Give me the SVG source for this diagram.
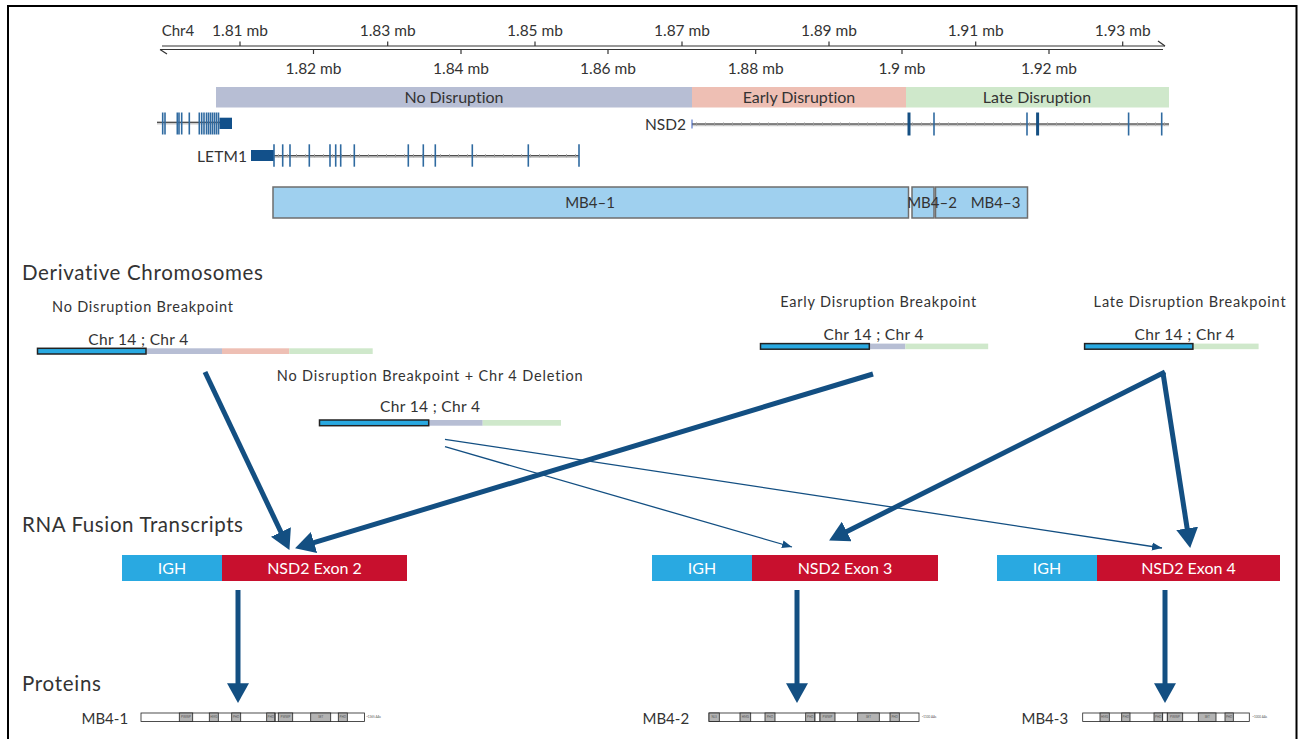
<svg xmlns="http://www.w3.org/2000/svg" width="1299" height="739" viewBox="0 0 1299 739">
<style>
text{font-family:Lato,"Liberation Sans",sans-serif;fill:#333;font-variant-ligatures:none}
.ax{font-size:15.5px;text-anchor:middle}
.band{font-size:16px;text-anchor:middle}
.gl{font-size:15.5px;text-anchor:end}
.mb{font-size:15px;text-anchor:middle}
.hd{font-size:20.5px}
.sub{font-size:14.5px;text-anchor:middle}
.chr{font-size:15.5px;text-anchor:middle}
.rna{font-size:16px;text-anchor:middle;fill:#fff}
.pl{font-size:15px}
.tiny{font-size:3px;text-anchor:middle;fill:#555}
.tick{stroke:#333;stroke-width:1.2}
.exon{stroke:#2f6aa0;stroke-width:1.6}
.exonT{stroke:#154f82;stroke-width:3}
.intron{stroke:#333;stroke-width:1}
.ichev{stroke:#999;stroke-width:3;stroke-dasharray:1 8}
.mbbox{fill:#9fd0ef;stroke:#6e6e6e;stroke-width:1.5}
.chrb{fill:#29a9e1;stroke:#222;stroke-width:1.5}
.thick{stroke:#134f82;stroke-width:5;fill:none;marker-end:url(#ah)}
.thin{stroke:#134f82;stroke-width:1.3;fill:none;marker-end:url(#ahs)}
.pbar{fill:#fff;stroke:#222;stroke-width:0.8}
.dom{fill:#b3b3b3;stroke:#222;stroke-width:0.8}
</style>
<defs>
<marker id="ah" markerUnits="userSpaceOnUse" markerWidth="22" markerHeight="22" refX="8" refY="10" orient="auto" viewBox="0 0 20 20">
<path d="M0,0 L18,10 L0,20 z" fill="#134f82"/>
</marker>
<marker id="ahs" markerUnits="userSpaceOnUse" markerWidth="12" markerHeight="10" refX="10" refY="4" orient="auto" viewBox="0 0 12 8">
<path d="M0,0 L10,4 L0,8 z" fill="#134f82"/>
</marker>
</defs>
<rect x="0" y="0" width="1299" height="739" fill="#fff"/>
<rect x="8" y="6" width="1288.5" height="745" fill="none" stroke="#000" stroke-width="2"/>

<g id="axis">
<text x="178" y="36" style="font-size:15px;text-anchor:middle">Chr4</text>
<line x1="162" y1="46" x2="1165" y2="46" class="tick"/>
<line x1="160" y1="49.5" x2="1163" y2="49.5" class="tick"/>
<line x1="1165" y1="46" x2="1158" y2="41" class="tick"/>
<line x1="160" y1="49.5" x2="167" y2="54" class="tick"/>
<g class="tick">
<line x1="240" y1="41.5" x2="240" y2="46"/><line x1="387.7" y1="41.5" x2="387.7" y2="46"/><line x1="535" y1="41.5" x2="535" y2="46"/><line x1="682" y1="41.5" x2="682" y2="46"/><line x1="829" y1="41.5" x2="829" y2="46"/><line x1="975.7" y1="41.5" x2="975.7" y2="46"/><line x1="1122.7" y1="41.5" x2="1122.7" y2="46"/>
<line x1="313.5" y1="49.5" x2="313.5" y2="54"/><line x1="461" y1="49.5" x2="461" y2="54"/><line x1="608" y1="49.5" x2="608" y2="54"/><line x1="755.7" y1="49.5" x2="755.7" y2="54"/><line x1="902" y1="49.5" x2="902" y2="54"/><line x1="1049" y1="49.5" x2="1049" y2="54"/>
</g>
<text class="ax" x="240" y="35.5">1.81 mb</text>
<text class="ax" x="387.7" y="35.5">1.83 mb</text>
<text class="ax" x="535" y="35.5">1.85 mb</text>
<text class="ax" x="682" y="35.5">1.87 mb</text>
<text class="ax" x="829" y="35.5">1.89 mb</text>
<text class="ax" x="975.7" y="35.5">1.91 mb</text>
<text class="ax" x="1122.7" y="35.5">1.93 mb</text>
<text class="ax" x="313.5" y="73.5">1.82 mb</text>
<text class="ax" x="461" y="73.5">1.84 mb</text>
<text class="ax" x="608" y="73.5">1.86 mb</text>
<text class="ax" x="755.7" y="73.5">1.88 mb</text>
<text class="ax" x="902" y="73.5">1.9 mb</text>
<text class="ax" x="1049" y="73.5">1.92 mb</text>
</g>

<g id="bands">
<rect x="216" y="87" width="476" height="20.5" fill="#b7bed4"/>
<rect x="692" y="87" width="214" height="20.5" fill="#eebfb4"/>
<rect x="906" y="87" width="263" height="20.5" fill="#cfe8cb"/>
<text class="band" x="454" y="102.5">No Disruption</text>
<text class="band" x="799" y="102.5">Early Disruption</text>
<text class="band" x="1037" y="102.5">Late Disruption</text>
</g>

<g id="gene-left">
<line x1="157" y1="123" x2="221" y2="123" stroke="#ccc" stroke-width="3"/>
<line x1="157" y1="122.3" x2="221" y2="122.3" class="intron"/>
<g class="exon">
<line x1="162.7" y1="112.5" x2="162.7" y2="134.5"/><line x1="165" y1="112.5" x2="165" y2="134.5"/><line x1="177.3" y1="112.5" x2="177.3" y2="134.5"/><line x1="179" y1="112.5" x2="179" y2="134.5"/><line x1="181.7" y1="112.5" x2="181.7" y2="134.5"/><line x1="189.3" y1="112.5" x2="189.3" y2="134.5"/><line x1="199.3" y1="112.5" x2="199.3" y2="134.5"/><line x1="201.7" y1="112.5" x2="201.7" y2="134.5"/><line x1="204" y1="112.5" x2="204" y2="134.5"/><line x1="206.5" y1="112.5" x2="206.5" y2="134.5"/><line x1="208.5" y1="112.5" x2="208.5" y2="134.5"/><line x1="210.5" y1="112.5" x2="210.5" y2="134.5"/><line x1="212.5" y1="112.5" x2="212.5" y2="134.5"/><line x1="214.5" y1="112.5" x2="214.5" y2="134.5"/><line x1="216.5" y1="112.5" x2="216.5" y2="134.5"/><line x1="218.5" y1="112.5" x2="218.5" y2="134.5"/>
</g>
<rect x="219.5" y="117.7" width="12.5" height="11.3" fill="#12508a"/>
</g>

<g id="gene-NSD2">
<text class="gl" x="686" y="129.5" textLength="41">NSD2</text>
<line x1="692" y1="124.8" x2="1169" y2="124.8" stroke="#ccc" stroke-width="3"/>
<line x1="692" y1="124" x2="1169" y2="124" class="intron"/>
<line x1="696" y1="124" x2="1166" y2="124" class="ichev"/>
<line x1="692" y1="119.5" x2="692" y2="128.5" stroke="#3a5fc0" stroke-width="1"/>
<line x1="909" y1="112.5" x2="909" y2="135.5" class="exonT"/>
<line x1="934" y1="112.5" x2="934" y2="135.5" class="exon"/>
<line x1="1027" y1="112.5" x2="1027" y2="135.5" class="exon"/>
<line x1="1037.6" y1="112.5" x2="1037.6" y2="135.5" class="exonT"/>
<line x1="1128.6" y1="112.5" x2="1128.6" y2="135.5" class="exon"/>
<line x1="1161.7" y1="112.5" x2="1161.7" y2="135.5" class="exon"/>
</g>

<g id="gene-LETM1">
<text class="gl" x="247" y="161.5" textLength="50">LETM1</text>
<rect x="251" y="150" width="23" height="11" fill="#12508a"/>
<line x1="274" y1="156.5" x2="579" y2="156.5" stroke="#ccc" stroke-width="3"/>
<line x1="274" y1="155.7" x2="579" y2="155.7" class="intron"/>
<line x1="278" y1="155.7" x2="577" y2="155.7" class="ichev"/>
<g class="exon">
<line x1="274" y1="144.3" x2="274" y2="166.7"/><line x1="282.7" y1="144.3" x2="282.7" y2="166.7"/><line x1="290" y1="144.3" x2="290" y2="166.7"/><line x1="309.3" y1="144.3" x2="309.3" y2="166.7"/><line x1="330" y1="144.3" x2="330" y2="166.7"/><line x1="335.7" y1="144.3" x2="335.7" y2="166.7"/><line x1="340.7" y1="144.3" x2="340.7" y2="166.7"/><line x1="354.3" y1="144.3" x2="354.3" y2="166.7"/><line x1="408.3" y1="144.3" x2="408.3" y2="166.7"/><line x1="423.3" y1="144.3" x2="423.3" y2="166.7"/><line x1="435.3" y1="144.3" x2="435.3" y2="166.7"/><line x1="472.3" y1="144.3" x2="472.3" y2="166.7"/><line x1="528.3" y1="144.3" x2="528.3" y2="166.7"/><line x1="579" y1="144.3" x2="579" y2="166.7"/>
</g>
</g>

<g id="mb4-regions">
<rect class="mbbox" x="273" y="187" width="635.5" height="31"/>
<rect class="mbbox" x="912" y="187" width="22" height="31"/>
<rect class="mbbox" x="935.5" y="187" width="92" height="31"/>
<text class="mb" x="590" y="208">MB4–1</text>
<text class="mb" x="932" y="208">MB4–2</text>
<text class="mb" x="995.5" y="208">MB4–3</text>
</g>

<g id="headings">
<text class="hd" x="22" y="280" textLength="241">Derivative Chromosomes</text>
<text class="hd" x="22" y="532" textLength="221">RNA Fusion Transcripts</text>
<text class="hd" x="22" y="691" textLength="79">Proteins</text>
</g>

<g id="der-nodisruption">
<text class="sub" x="142.5" y="312" textLength="181">No Disruption Breakpoint</text>
<text class="chr" x="138.3" y="345" textLength="100">Chr 14 ; Chr 4</text>
<rect x="146" y="348.3" width="76" height="5.7" fill="#b7bed4"/>
<rect x="222" y="348.3" width="67.3" height="5.7" fill="#eebfb4"/>
<rect x="289.3" y="348.3" width="83.4" height="5.7" fill="#cfe8cb"/>
<rect class="chrb" x="37.5" y="348.3" width="108.5" height="5.7"/>
</g>

<g id="der-deletion">
<text class="sub" x="429.7" y="381" textLength="306">No Disruption Breakpoint + Chr 4 Deletion</text>
<text class="chr" x="430" y="412" textLength="100">Chr 14 ; Chr 4</text>
<rect x="428.7" y="420" width="54" height="5.7" fill="#b7bed4"/>
<rect x="482.7" y="420" width="78.3" height="5.7" fill="#cfe8cb"/>
<rect class="chrb" x="319.5" y="420" width="109.2" height="5.7"/>
</g>

<g id="der-early">
<text class="sub" x="878.2" y="307" textLength="196">Early Disruption Breakpoint</text>
<text class="chr" x="873.5" y="340" textLength="100">Chr 14 ; Chr 4</text>
<rect x="869.3" y="343.6" width="36.1" height="5.6" fill="#b7bed4"/>
<rect x="905.4" y="343.6" width="82.8" height="5.6" fill="#cfe8cb"/>
<rect class="chrb" x="760.5" y="343.6" width="108.8" height="5.6"/>
</g>

<g id="der-late">
<text class="sub" x="1189.6" y="307" textLength="192">Late Disruption Breakpoint</text>
<text class="chr" x="1184.6" y="340" textLength="100">Chr 14 ; Chr 4</text>
<rect x="1192.9" y="343.6" width="65.7" height="5.6" fill="#cfe8cb"/>
<rect class="chrb" x="1084.6" y="343.6" width="108.3" height="5.6"/>
</g>

<g id="rna-exon2">
<rect x="122" y="555" width="100" height="26" fill="#29a9e1"/>
<rect x="222" y="555" width="185" height="26" fill="#c8102e"/>
<text class="rna" x="172" y="574">IGH</text>
<text class="rna" x="314.5" y="574">NSD2 Exon 2</text>
</g>
<g id="rna-exon3">
<rect x="652" y="555" width="100" height="26" fill="#29a9e1"/>
<rect x="752" y="555" width="186" height="26" fill="#c8102e"/>
<text class="rna" x="702" y="574">IGH</text>
<text class="rna" x="845" y="574">NSD2 Exon 3</text>
</g>
<g id="rna-exon4">
<rect x="997" y="555" width="100" height="26" fill="#29a9e1"/>
<rect x="1097" y="555" width="183" height="26" fill="#c8102e"/>
<text class="rna" x="1047" y="574">IGH</text>
<text class="rna" x="1188.5" y="574">NSD2 Exon 4</text>
</g>

<g id="protein-mb4-1">
<text class="pl" x="81.5" y="723.5">MB4-1</text>
<rect class="pbar" x="141" y="713" width="223.5" height="8.5"/>
<rect class="dom" x="179.3" y="713" width="13.4" height="8.5"/>
<rect class="dom" x="209.3" y="713" width="9" height="8.5"/>
<rect class="dom" x="231.7" y="713" width="9" height="8.5"/>
<rect class="dom" x="266.7" y="713" width="8.3" height="8.5"/>
<rect class="dom" x="278.3" y="713" width="14.4" height="8.5"/>
<line x1="275" y1="713" x2="275" y2="721.5" stroke="#222" stroke-width="0.8"/>
<rect class="dom" x="310.7" y="713" width="20" height="8.5"/>
<rect class="dom" x="338.3" y="713" width="9" height="8.5"/>
<text class="tiny" x="186" y="718.3">PWWP</text>
<text class="tiny" x="213.8" y="718.3">HMG</text>
<text class="tiny" x="236.2" y="718.3">PHD</text>
<text class="tiny" x="270.8" y="718.3">PHD</text>
<text class="tiny" x="285.5" y="718.3">PWWP</text>
<text class="tiny" x="320.7" y="718.3">SET</text>
<text class="tiny" x="342.8" y="718.3">PHD</text>
<text class="tiny" x="373.5" y="718.3">~1365 AAs</text>
</g>

<g id="protein-mb4-2">
<text class="pl" x="642.5" y="723.5">MB4-2</text>
<rect class="pbar" x="709" y="713" width="210" height="8.5"/>
<rect class="dom" x="709" y="713" width="10.3" height="8.5"/>
<rect class="dom" x="740" y="713" width="10.7" height="8.5"/>
<rect class="dom" x="765" y="713" width="10" height="8.5"/>
<rect class="dom" x="805.7" y="713" width="9.3" height="8.5"/>
<rect class="pbar" x="815" y="713" width="5" height="8.5"/>
<rect class="dom" x="820" y="713" width="15" height="8.5"/>
<rect class="dom" x="857.7" y="713" width="21.6" height="8.5"/>
<rect class="dom" x="890" y="713" width="9.3" height="8.5"/>
<text class="tiny" x="714.2" y="718.3">NLS</text>
<text class="tiny" x="745.3" y="718.3">HMG</text>
<text class="tiny" x="770" y="718.3">PHD</text>
<text class="tiny" x="810.3" y="718.3">PHD</text>
<text class="tiny" x="827.5" y="718.3">PWWP</text>
<text class="tiny" x="868.5" y="718.3">SET</text>
<text class="tiny" x="894.7" y="718.3">PHD</text>
<text class="tiny" x="929" y="718.3">~1100 AAs</text>
</g>

<g id="protein-mb4-3">
<text class="pl" x="1021.5" y="723.5">MB4-3</text>
<rect class="pbar" x="1082.7" y="713" width="166.6" height="8.5"/>
<rect class="dom" x="1100" y="713" width="9.3" height="8.5"/>
<rect class="dom" x="1121.7" y="713" width="8.3" height="8.5"/>
<rect class="dom" x="1154" y="713" width="8.7" height="8.5"/>
<rect class="pbar" x="1162.7" y="713" width="4.6" height="8.5"/>
<rect class="dom" x="1167.3" y="713" width="15.4" height="8.5"/>
<rect class="dom" x="1198.3" y="713" width="17.7" height="8.5"/>
<rect class="dom" x="1225" y="713" width="8.3" height="8.5"/>
<text class="tiny" x="1104.6" y="718.3">HMG</text>
<text class="tiny" x="1125.8" y="718.3">PHD</text>
<text class="tiny" x="1158.3" y="718.3">PHD</text>
<text class="tiny" x="1175" y="718.3">PWWP</text>
<text class="tiny" x="1207.2" y="718.3">SET</text>
<text class="tiny" x="1229.2" y="718.3">PHD</text>
<text class="tiny" x="1259.7" y="718.3">~1000 AAs</text>
</g>

<g id="connectors">
<line class="thick" x1="205" y1="372" x2="284.7" y2="540"/>
<line class="thick" x1="873" y1="374" x2="305.6" y2="545.1"/>
<line class="thick" x1="1165" y1="372" x2="838.9" y2="535.5"/>
<line class="thick" x1="1163" y1="373" x2="1188.5" y2="537.1"/>
<line class="thin" x1="445" y1="439.3" x2="1162" y2="548"/>
<line class="thin" x1="445" y1="446.7" x2="792" y2="547"/>
<line class="thick" x1="238" y1="590" x2="238" y2="692"/>
<line class="thick" x1="797" y1="590" x2="797" y2="692"/>
<line class="thick" x1="1165" y1="590" x2="1165" y2="692"/>
</g>
</svg>
